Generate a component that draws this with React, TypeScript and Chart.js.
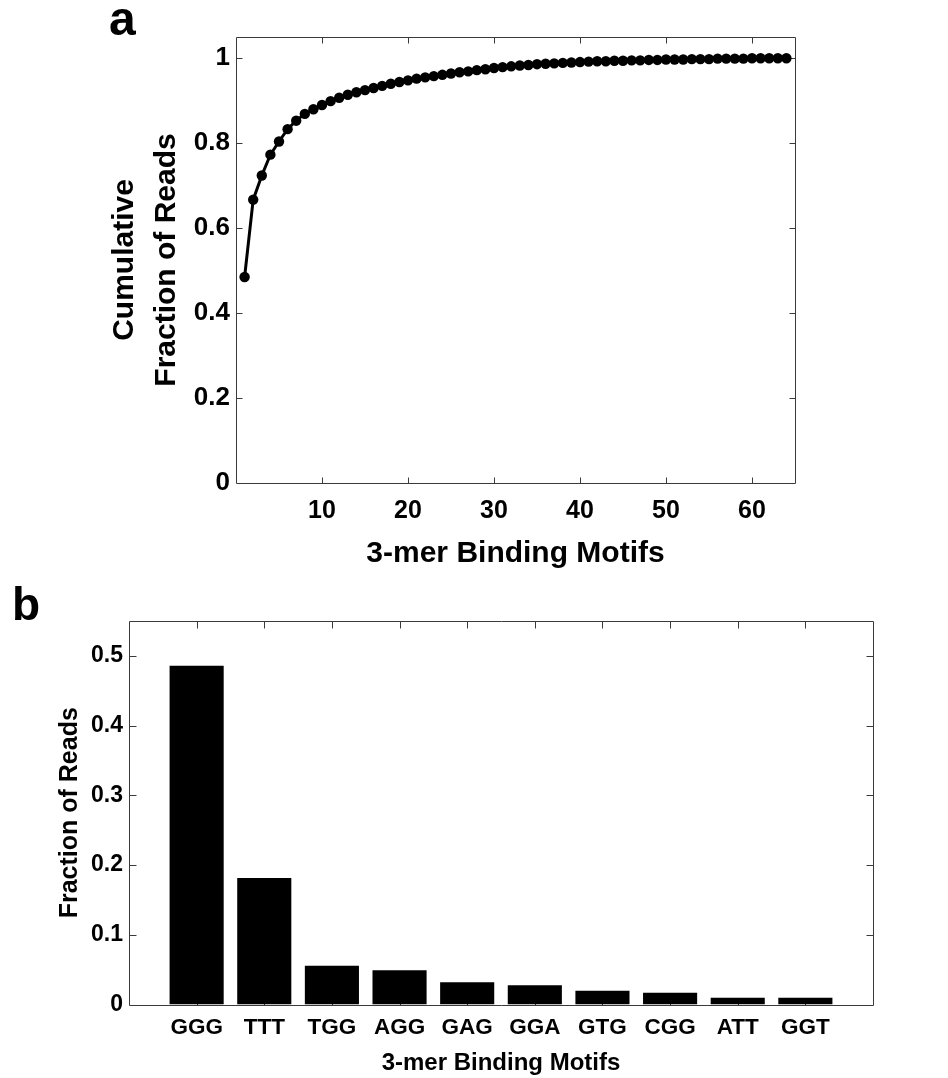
import React, { useEffect, useRef } from "react";
import { Chart, registerables } from "chart.js";

Chart.register(...registerables);

// ---------- Data ----------
const cumulativeFraction = [
  0.485, 0.667, 0.724, 0.773, 0.804, 0.833, 0.853, 0.869, 0.880, 0.890,
  0.899, 0.907, 0.914, 0.920, 0.925, 0.930, 0.935, 0.940, 0.944, 0.948,
  0.952, 0.955, 0.958, 0.961, 0.964, 0.967, 0.969, 0.972, 0.974, 0.977,
  0.979, 0.981, 0.983, 0.984, 0.986, 0.987, 0.988, 0.989, 0.990, 0.991,
  0.992, 0.993, 0.993, 0.994, 0.994, 0.995, 0.995, 0.996, 0.996, 0.997,
  0.997, 0.997, 0.998, 0.998, 0.998, 0.999, 0.999, 0.999, 0.999, 1.0,
  1.0, 1.0, 1.0, 1.0,
];
const topXTicks = [10, 20, 30, 40, 50, 60];
const topYTicks = [0, 0.2, 0.4, 0.6, 0.8, 1];

const motifs = ["GGG", "TTT", "TGG", "AGG", "GAG", "GGA", "GTG", "CGG", "ATT", "GGT"];
const motifFraction = [0.486, 0.1815, 0.0557, 0.049, 0.032, 0.0275, 0.0198, 0.017, 0.0098, 0.0098];
const bottomYTicks = [0, 0.1, 0.2, 0.3, 0.4, 0.5];

const FONT = "'Liberation Sans', Arial, Helvetica, sans-serif";
const AXIS_COLOR = "#3a3a3a";

const fmt = (v: number) => String(Number(v.toFixed(3)));

// MATLAB-like box with inward ticks plus panel letter
const boxPlugin = {
  id: "matlabBox",
  beforeDatasetsDraw(chart: any, _args: any, opts: any) {
    const { ctx, chartArea: a, scales } = chart;
    const L = opts.tickLength ?? 6;
    ctx.save();
    ctx.strokeStyle = opts.color || AXIS_COLOR;
    ctx.lineWidth = 1;
    ctx.beginPath();
    const l = Math.round(a.left) + 0.5, r = Math.round(a.right) + 0.5;
    const t = Math.round(a.top) + 0.5, b = Math.round(a.bottom) + 0.5;
    ctx.rect(l, t, r - l, b - t);
    const xs = scales.x, ys = scales.y;
    xs.ticks.forEach((tk: any) => {
      const px = Math.round(xs.getPixelForValue(tk.value)) + 0.5;
      if (px <= l + 1 || px >= r - 1) return;
      ctx.moveTo(px, b); ctx.lineTo(px, b - L);
      ctx.moveTo(px, t); ctx.lineTo(px, t + L);
    });
    ys.ticks.forEach((tk: any) => {
      const py = Math.round(ys.getPixelForValue(tk.value)) + 0.5;
      if (py <= t + 1 || py >= b - 1) return;
      ctx.moveTo(l, py); ctx.lineTo(l + L, py);
      ctx.moveTo(r, py); ctx.lineTo(r - L, py);
    });
    ctx.stroke();
    ctx.restore();
  },
  afterDraw(chart: any, _args: any, opts: any) {
    if (!opts.letter) return;
    const { ctx } = chart;
    ctx.save();
    ctx.fillStyle = "#000";
    ctx.font = `bold ${opts.letterSize}px ${FONT}`;
    ctx.textBaseline = "alphabetic";
    ctx.textAlign = "left";
    ctx.fillText(opts.letter, opts.letterX, opts.letterY);
    ctx.restore();
  },
};

const noGrid = { display: false, drawTicks: false, tickLength: 0 };

function TopChart() {
  const ref = useRef<HTMLCanvasElement>(null);
  useEffect(() => {
    const chart = new Chart(ref.current!, {
      type: "line",
      data: {
        datasets: [
          {
            data: cumulativeFraction.map((v, i) => ({ x: i + 1, y: v })),
            borderColor: "#000",
            backgroundColor: "#000",
            borderWidth: 3,
            pointRadius: 5.2,
            pointBackgroundColor: "#000",
            pointBorderWidth: 0,
            tension: 0,
          },
        ],
      },
      options: {
        animation: false,
        responsive: false,
        layout: { padding: { left: 0, top: 37, right: 153, bottom: 0 } },
        plugins: {
          legend: { display: false },
          tooltip: { enabled: false },
          matlabBox: { tickLength: 6, letter: "a", letterSize: 48, letterX: 109, letterY: 35 },
        } as any,
        scales: {
          x: {
            type: "linear",
            min: 0,
            max: 65,
            afterBuildTicks: (s: any) => { s.ticks = topXTicks.map((v) => ({ value: v })); },
            afterFit: (s: any) => { s.height = 97; },
            grid: noGrid,
            border: { display: false },
            ticks: {
              padding: 13,
              color: "#000",
              font: { family: FONT, size: 25, weight: "bold" },
              callback: (v: any) => fmt(Number(v)),
              maxRotation: 0,
            },
            title: {
              display: true,
              text: "3-mer Binding Motifs",
              color: "#000",
              font: { family: FONT, size: 30, weight: "bold", lineHeight: 1.2 },
              padding: { top: 0, bottom: 8 },
            },
          },
          y: {
            type: "linear",
            min: 0,
            max: 1.05,
            afterBuildTicks: (s: any) => { s.ticks = topYTicks.map((v) => ({ value: v })); },
            afterFit: (s: any) => { s.width = 236; },
            grid: noGrid,
            border: { display: false },
            ticks: {
              padding: 6,
              color: "#000",
              font: { family: FONT, size: 26, weight: "bold" },
              callback: (v: any) => fmt(Number(v)),
            },
            title: {
              display: true,
              text: ["Cumulative", "Fraction of Reads"],
              color: "#000",
              font: { family: FONT, size: 30, weight: "bold", lineHeight: 1.4 },
              padding: { top: 104, bottom: 0 },
            },
          },
        },
      },
      plugins: [boxPlugin as any],
    });
    return () => chart.destroy();
  }, []);
  return <canvas ref={ref} width={948} height={580} style={{ position: "absolute", left: 0, top: 0, width: 948, height: 580 }} />;
}

function BottomChart() {
  const ref = useRef<HTMLCanvasElement>(null);
  useEffect(() => {
    const chart = new Chart(ref.current!, {
      type: "bar",
      data: {
        datasets: [
          {
            data: motifFraction.map((v, i) => ({ x: i + 1, y: v })),
            backgroundColor: "#000",
            borderWidth: 0,
            barPercentage: 0.8,
            categoryPercentage: 1.0,
          },
        ],
      },
      options: {
        animation: false,
        responsive: false,
        layout: { padding: { left: 0, top: 41, right: 75, bottom: 0 } },
        plugins: {
          legend: { display: false },
          tooltip: { enabled: false },
          matlabBox: { tickLength: 7, letter: "b", letterSize: 46, letterX: 12, letterY: 40 },
        } as any,
        scales: {
          x: {
            type: "linear",
            min: 0,
            max: 11,
            offset: false,
            afterBuildTicks: (s: any) => { s.ticks = motifs.map((_, i) => ({ value: i + 1 })); },
            afterFit: (s: any) => { s.height = 73.5; },
            grid: noGrid,
            border: { display: false },
            ticks: {
              padding: 10,
              color: "#000",
              font: { family: FONT, size: 22.5, weight: "bold" },
              callback: (v: any) => motifs[Math.round(Number(v)) - 1] ?? "",
              maxRotation: 0,
              autoSkip: false,
            },
            title: {
              display: true,
              text: "3-mer Binding Motifs",
              color: "#000",
              font: { family: FONT, size: 24, weight: "bold", lineHeight: 1.2 },
              padding: { top: 0, bottom: 0 },
            },
          },
          y: {
            type: "linear",
            min: 0,
            max: 0.55,
            afterBuildTicks: (s: any) => { s.ticks = bottomYTicks.map((v) => ({ value: v })); },
            afterFit: (s: any) => { s.width = 129; },
            grid: noGrid,
            border: { display: false },
            ticks: {
              padding: 6,
              color: "#000",
              font: { family: FONT, size: 23, weight: "bold" },
              callback: (v: any) => fmt(Number(v)),
            },
            title: {
              display: true,
              text: "Fraction of Reads",
              color: "#000",
              font: { family: FONT, size: 25, weight: "bold", lineHeight: 1.2 },
              padding: { top: 55, bottom: 0 },
            },
          },
        },
      },
      plugins: [boxPlugin as any],
    });
    return () => chart.destroy();
  }, []);
  return <canvas ref={ref} width={948} height={498} style={{ position: "absolute", left: 0, top: 580, width: 948, height: 498 }} />;
}

export default function App() {
  return (
    <div style={{ position: "absolute", left: 0, top: 0, width: 948, height: 1078, background: "#fff" }}>
      <TopChart />
      <BottomChart />
    </div>
  );
}
